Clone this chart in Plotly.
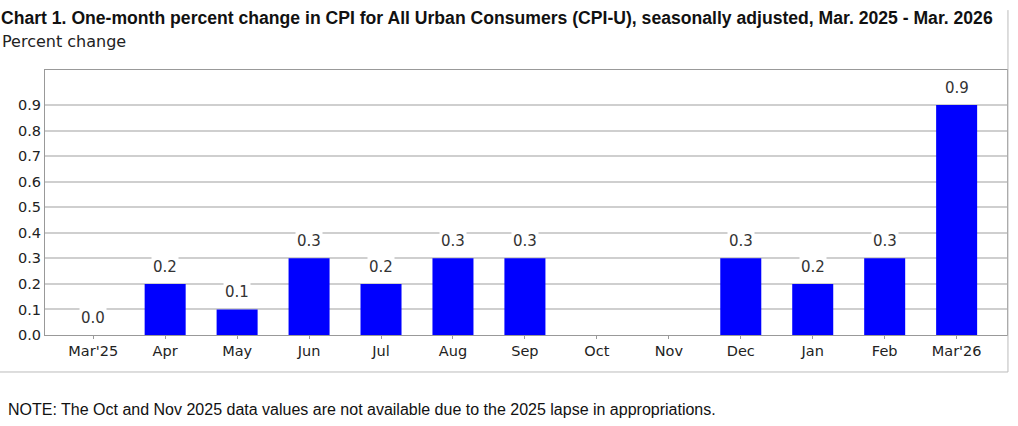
import plotly.graph_objects as go

months = ["Mar'25", "Apr", "May", "Jun", "Jul", "Aug", "Sep", "Oct", "Nov", "Dec", "Jan", "Feb", "Mar'26"]
pct_change = [0.0, 0.2, 0.1, 0.3, 0.2, 0.3, 0.3, None, None, 0.3, 0.2, 0.3, 0.9]
y_ticks = [0.0, 0.1, 0.2, 0.3, 0.4, 0.5, 0.6, 0.7, 0.8, 0.9]

title = "Chart 1. One-month percent change in CPI for All Urban Consumers (CPI-U), seasonally adjusted, Mar. 2025 - Mar. 2026"
note = "NOTE: The Oct and Nov 2025 data values are not available due to the 2025 lapse in appropriations."

fig = go.Figure(go.Bar(x=months, y=pct_change, marker=dict(color="#0000ff", line_width=0), width=0.57))

# value labels with white background so gridlines break around them
for m, v in zip(months, pct_change):
    if v is None:
        continue
    fig.add_annotation(x=m, y=v, text=f"{v:.1f}", showarrow=False, yanchor="bottom", yshift=6,
                       bgcolor="white", borderpad=1, font=dict(family="DejaVu Sans", size=15, color="#333"))

fig.add_annotation(xref="paper", yref="paper", x=-0.0478, y=1.196, xanchor="left", yanchor="middle",
                   text="<b>" + title + "</b>", showarrow=False,
                   font=dict(family="Liberation Sans", size=17.6, color="#111"))
fig.add_annotation(xref="paper", yref="paper", x=-0.0468, y=1.106, xanchor="left", yanchor="middle",
                   text="Percent change", showarrow=False,
                   font=dict(family="DejaVu Sans", size=16, color="#222"))
fig.add_annotation(xref="paper", yref="paper", x=-0.0405, y=-0.283, xanchor="left", yanchor="middle",
                   text=note, showarrow=False,
                   font=dict(family="Liberation Sans", size=16, color="#111"))

# outer frame (right edge and bottom rule)
fig.add_shape(type="line", xref="paper", yref="paper", x0=-0.047, x1=1.001, y0=-0.1396, y1=-0.1396,
              line=dict(color="#bbb", width=1))
fig.add_shape(type="line", xref="paper", yref="paper", x0=1.001, x1=1.001, y0=1.226, y1=-0.1396,
              line=dict(color="#bbb", width=1))

fig.update_layout(
    width=1018, height=426,
    margin=dict(l=45, r=11, t=70, b=91),
    paper_bgcolor="white", plot_bgcolor="white",
    showlegend=False,
    xaxis=dict(range=[-0.67, 12.7], showline=True, linecolor="#999", linewidth=1, mirror=True,
               ticks="outside", ticklen=3, tickcolor="#999", showgrid=False,
               tickfont=dict(family="DejaVu Sans", size=14.5, color="#222")),
    yaxis=dict(range=[0, 1.037], tickvals=y_ticks, ticktext=[f"{t:.1f}" for t in y_ticks],
               showline=True, linecolor="#999", linewidth=1, mirror=True,
               gridcolor="#cfcfcf", gridwidth=1.5, zeroline=False, ticks="",
               tickfont=dict(family="DejaVu Sans", size=14.5, color="#222")),
)

fig.write_html("out.html", config={"displayModeBar": False},
               post_script="document.body.style.margin='0';")
